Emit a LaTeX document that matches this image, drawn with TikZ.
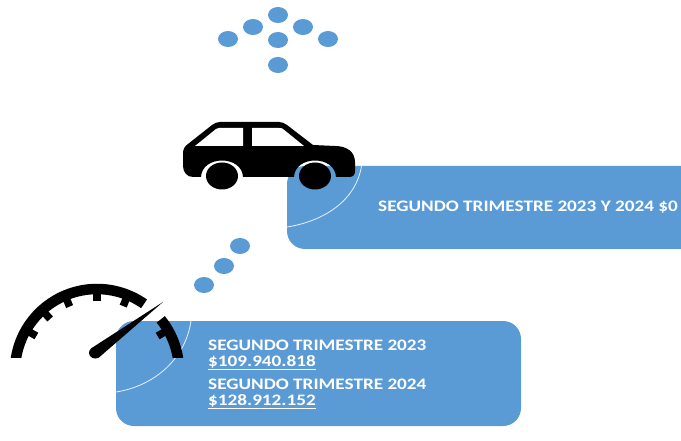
\documentclass[tikz,border=0pt]{standalone}
\usepackage{fontspec}
\setmainfont{Carlito}[BoldFont={Carlito Bold}]
\definecolor{panelblue}{HTML}{5B9BD5}
\newcommand{\wide}[1]{\scalebox{1.2}[1]{#1}}
\tikzset{
  dotmark/.style={ellipse,fill=panelblue,draw=none,minimum width=20pt,minimum height=16pt,inner sep=0pt},
  panel/.style={fill=panelblue,draw=none},
  sweep/.style={draw=white!85!panelblue,line width=0.8pt},
  label/.style={text=white,font=\bfseries\fontsize{16}{16}\selectfont,anchor=base west,inner sep=0pt},
  gaugeink/.style={draw=black,line width=10.5pt},
  tickink/.style={draw=black,line width=7.5pt}
}
\usetikzlibrary{shapes.geometric}
\begin{document}
\begin{tikzpicture}[x=1pt,y=-1pt]
\useasboundingbox (0,0) rectangle (681,441);
% top arrow of dots
\foreach \n/\px/\py in {a/228/39,b/253/27,c/278/15,d/303/27,e/328/39,f/278/40,g/278/65}
  \node[dotmark] (top\n) at (\px,\py) {};
% rising dots
\foreach \n/\px/\py in {a/240/246,b/224/266,c/204/285}
  \node[dotmark] (rise\n) at (\px,\py) {};
% upper panel
\fill[panel] (305,166) -- (681,166) -- (681,249) -- (305,249)
  .. controls (295,249) and (287,241) .. (287,231) -- (287,184)
  .. controls (287,174) and (295,166) .. (305,166) -- cycle;
\draw[sweep] (287,227) .. controls (325,221) and (356,200) .. (361.5,166);
% lower panel
\fill[panel] (134,321) -- (503,321) .. controls (513,321) and (521,329) .. (521,339)
  -- (521,408) .. controls (521,418) and (513,426) .. (503,426)
  -- (134,426) .. controls (124,426) and (116,418) .. (116,408)
  -- (116,339) .. controls (116,329) and (124,321) .. (134,321) -- cycle;
\draw[sweep] (116,392) .. controls (155,386) and (186,358) .. (191,320.5);
% car
\fill[black] (183,153) .. controls (183,149) and (185,146) .. (188,144)
  -- (212,125) .. controls (215,123) and (217,122) .. (220,122)
  -- (279,122) .. controls (282,122) and (284,123) .. (287,125)
  -- (313,145) -- (335,146) .. controls (347,146) and (355,152) .. (355,162)
  -- (355,171) .. controls (355,175) and (353,177) .. (349,177) -- (336,177)
  .. controls (335,155) and (295,155) .. (294,177) -- (243,177)
  .. controls (242,155) and (202,155) .. (201,177) -- (193,177)
  .. controls (187,177) and (183,172) .. (183,166) -- cycle;
\fill[white] (195,146) -- (216,129) .. controls (217,128) and (218,128) .. (219,128)
  -- (243,128) -- (243,146) -- cycle;
\fill[white] (252,128) -- (279,128) .. controls (281,128) and (282,128) .. (283,129)
  -- (304,146) -- (252,146) -- cycle;
\fill[black] (222,176) ellipse [x radius=16pt,y radius=13.5pt];
\fill[black] (315,176) ellipse [x radius=16pt,y radius=13.5pt];
% gauge
\begin{scope}
\clip (0,0) rectangle (681,357);
\draw[gaugeink] plot[domain=173:55,samples=50] ({97+82*cos(\x)},{371-82*sin(\x)});
\draw[gaugeink] plot[domain=39:5,samples=30] ({97+82*cos(\x)},{371-82*sin(\x)});
\end{scope}
\foreach \a in {30,68,90,113,132,150}
  \draw[tickink] ({97+79*cos(\a)},{371-79*sin(\a)}) -- ({97+70*cos(\a)},{371-70*sin(\a)});
\fill[black] (163,302) -- (98.6,357.8) .. controls (94,360) and (89,357) .. (89,353)
  .. controls (89,351) and (90,349) .. (91.4,348.2) -- cycle;
% text
\node[label] (upper) at (378,212) {\wide{SEGUNDO TRIMESTRE 2023 Y 2024 \$0}};
\node[label] (lowera) at (208,350) {\wide{SEGUNDO TRIMESTRE 2023}};
\node[label] (amounta) at (208,366) {\wide{\underline{\$109.940.818}}};
\node[label] (lowerb) at (208,389) {\wide{SEGUNDO TRIMESTRE 2024}};
\node[label] (amountb) at (208,405) {\wide{\underline{\$128.912.152}}};
\end{tikzpicture}
\end{document}
